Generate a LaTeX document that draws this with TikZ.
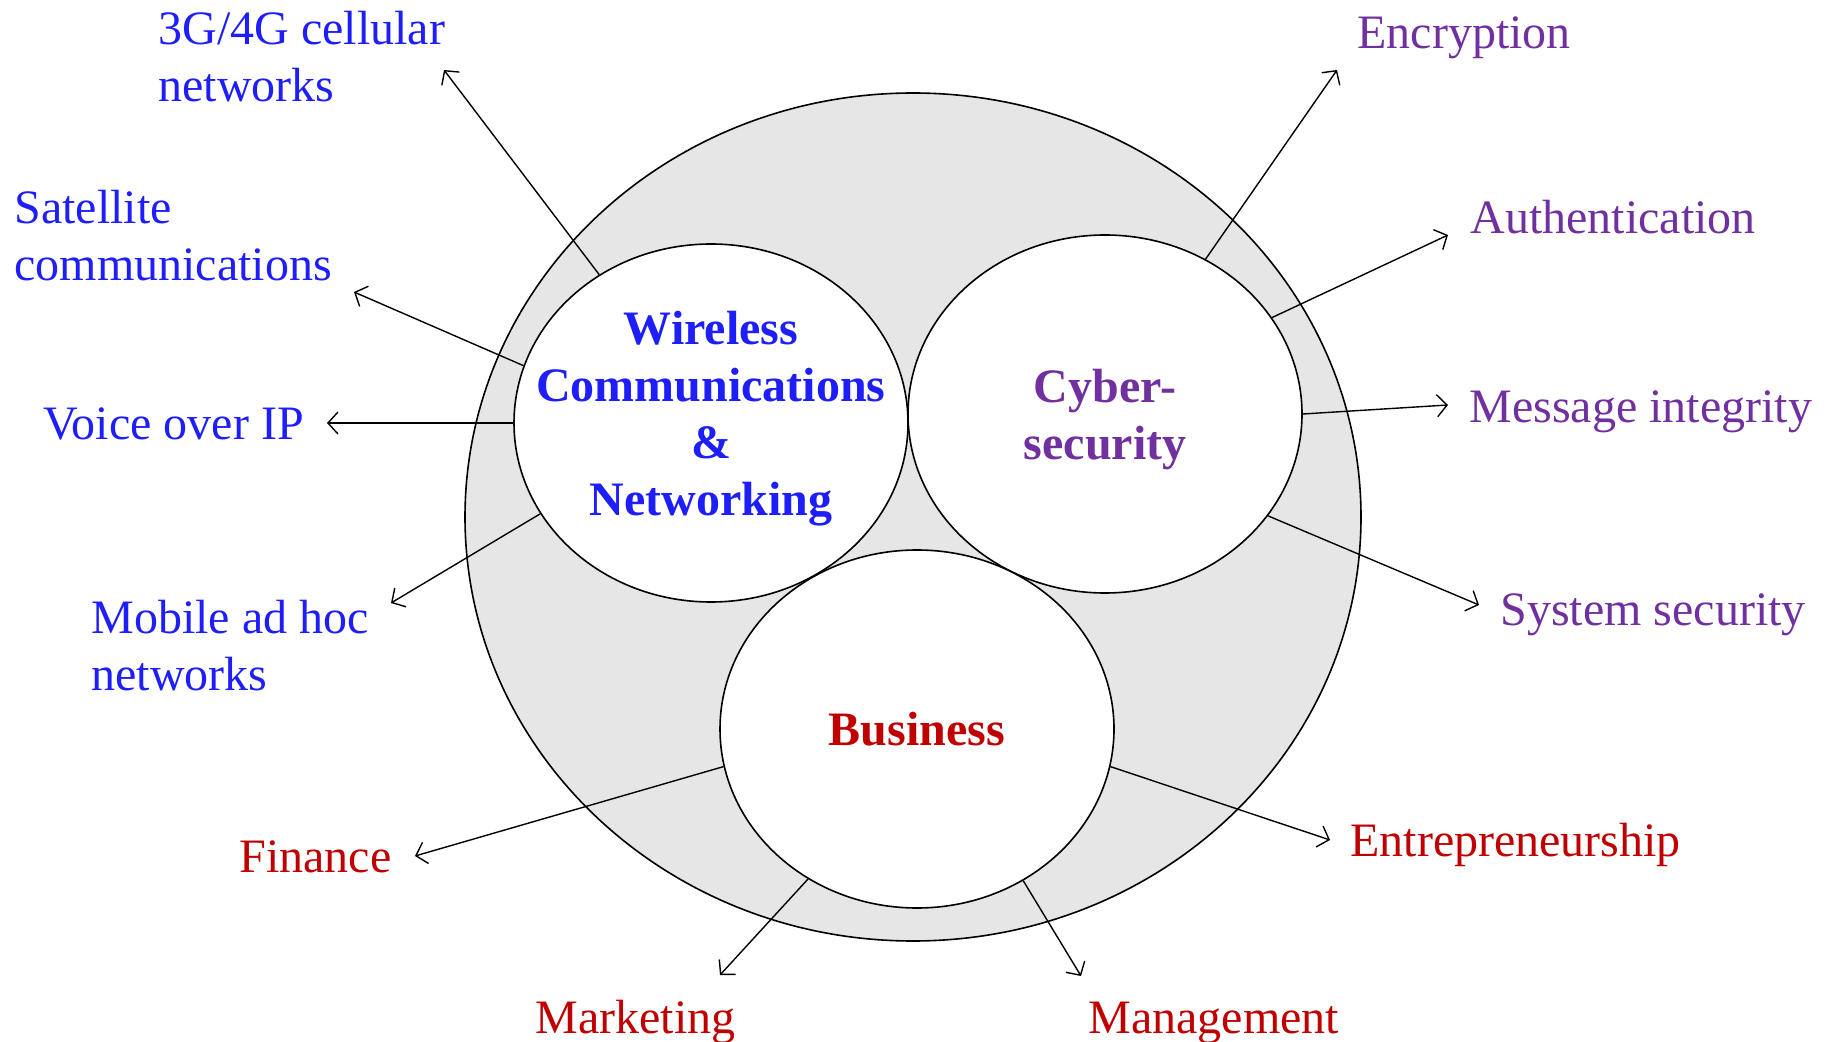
\documentclass[tikz,border=0pt]{standalone}
\usepackage{fontspec}
\setmainfont{Liberation Serif}
\usetikzlibrary{arrows.meta,shapes.geometric}

\definecolor{wblue}{RGB}{30,30,250}
\definecolor{cpurple}{RGB}{112,48,160}
\definecolor{bred}{RGB}{192,0,0}
\definecolor{ringgray}{RGB}{230,230,230}

\tikzset{
  area/.style={ellipse,draw,fill=white,line width=0.8pt,
    minimum width=197pt,minimum height=179pt,inner sep=0pt},
  title/.style={font=\fontsize{24}{28.5}\selectfont\bfseries,align=center},
  topic/.style={font=\fontsize{24}{28.5}\selectfont,align=left,
    anchor=base west,inner sep=0pt},
  arr/.style={-{Straight Barb[length=5pt,width=11pt]},line width=0.7pt}
}

\begin{document}
\begin{tikzpicture}[x=0.5pt,y=-0.5pt]
  \useasboundingbox (0,0) rectangle (1831,1042);

  \node[ellipse,draw,fill=ringgray,line width=0.8pt,minimum width=448pt,
        minimum height=424pt,inner sep=0pt] (ring) at (913,517) {};
  \node[area] (wcn) at (711,423) {};
  \node[area] (cyb) at (1105,414) {};
  \node[area] (bus) at (917,729) {};

  \node[title,text=wblue]   (wcnT) at ([yshift=2pt]wcn) {Wireless\\Communications\\\&\\Networking};
  \node[title,text=cpurple] (cybT) at ([yshift=-3pt]cyb) {Cyber-\\security};
  \node[title,text=bred]    (busT) at (bus) {Business};

  % wireless side
  \node[topic,text=wblue] (l3g)  at (158,102) {3G/4G cellular\\networks};
  \node[topic,text=wblue] (lsat) at (14,281)  {Satellite\\communications};
  \node[topic,text=wblue] (lvoip) at (43,440) {Voice over IP};
  \node[topic,text=wblue] (lmob) at (91,690)  {Mobile ad hoc\\networks};
  % security side
  \node[topic,text=cpurple] (lenc) at (1357,49)  {Encryption};
  \node[topic,text=cpurple] (laut) at (1470,234) {Authentication};
  \node[topic,text=cpurple] (lmsg) at (1469,423) {Message integrity};
  \node[topic,text=cpurple] (lsys) at (1500,625) {System security};
  % business side
  \node[topic,text=bred] (lfin) at (239,872)  {Finance};
  \node[topic,text=bred] (lmkt) at (535,1033) {Marketing};
  \node[topic,text=bred] (lmgt) at (1088,1033) {Management};
  \node[topic,text=bred] (lent) at (1350,856) {Entrepreneurship};

  \coordinate (t3g)  at (444,70);
  \coordinate (tsat) at (354,292);
  \coordinate (tvoip) at (327,423);
  \coordinate (tmob) at (391,603);
  \coordinate (tenc) at (1337,70);
  \coordinate (taut) at (1448,235);
  \coordinate (tmsg) at (1448,405);
  \coordinate (tsys) at (1479,605);
  \coordinate (tfin) at (415,856);
  \coordinate (tmkt) at (720,975);
  \coordinate (tmgt) at (1081,976);
  \coordinate (tent) at (1330,840);

  \path[arr] (wcn.127) edge (t3g)
             (wcn.163) edge (tsat)
             (wcn.180) edge (tvoip)
             (wcn.208) edge (tmob)
             (cyb.57)  edge (tenc)
             (cyb.30)  edge (taut)
             (cyb.0)   edge (tmsg)
             (cyb.-32) edge (tsys)
             (bus.191) edge (tfin)
             (bus.234) edge (tmkt)
             (bus.-55) edge (tmgt)
             (bus.-11) edge (tent);
\end{tikzpicture}
\end{document}
